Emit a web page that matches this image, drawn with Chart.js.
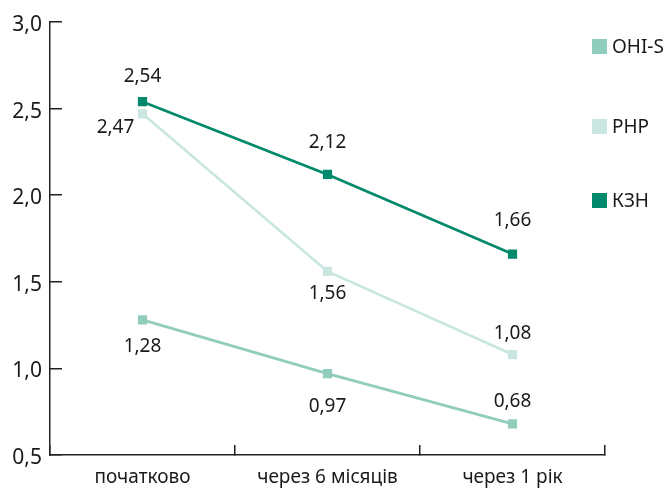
<!DOCTYPE html>
<html lang="uk">
<head>
<meta charset="utf-8">
<title>OHI-S, PHP, КЗН</title>
<script src="https://cdn.jsdelivr.net/npm/chart.js@4"></script>
<style>
  html, body { margin: 0; padding: 0; background: #fff; }
  #wrap { width: 668px; height: 494px; position: relative; }
</style>
</head>
<body>
<div id="wrap"><canvas id="chart"></canvas></div>
<script>
const periods = ['початково', 'через 6 місяців', 'через 1 рік'];
const ohiS = [1.28, 0.97, 0.68];
const php = [2.47, 1.56, 1.08];
const kzn = [2.54, 2.12, 1.66];
const yTicks = [0.5, 1.0, 1.5, 2.0, 2.5, 3.0];

const colors = { ohiS: '#90cdbd', php: '#c9e7e0', kzn: '#00896b' };
const fontFamily = "'Noto Sans', 'Open Sans', sans-serif";
const textColor = '#1a1a1a';

// where each value label sits relative to its point (px)
const labelShift = {
  'OHI-S': [[0, 27], [0, 33], [0, -22]],
  'PHP': [[-27, 14], [0, 22], [0, -21]],
  'КЗН': [[0, -25], [0, -32], [0, -33]]
};

const fmt = (v) => v.toFixed(2).replace('.', ',');

const valueLabels = {
  id: 'valueLabels',
  afterDatasetsDraw(chart) {
    const { ctx } = chart;
    ctx.save();
    ctx.font = `19px ${fontFamily}`;
    ctx.fillStyle = textColor;
    ctx.textAlign = 'center';
    ctx.textBaseline = 'middle';
    chart.data.datasets.forEach((ds, i) => {
      const meta = chart.getDatasetMeta(i);
      meta.data.forEach((pt, j) => {
        const [dx, dy] = labelShift[ds.label][j];
        ctx.fillText(fmt(ds.data[j]), pt.x + dx, pt.y + dy);
      });
    });
    ctx.restore();
  }
};

// legend stacked down the right edge
const sideLegend = {
  id: 'sideLegend',
  afterDraw(chart) {
    const { ctx } = chart;
    const rows = [46.5, 126.5, 200.5];
    ctx.save();
    ctx.font = `19px ${fontFamily}`;
    ctx.textBaseline = 'middle';
    chart.data.datasets.forEach((ds, i) => {
      const y = rows[i];
      ctx.fillStyle = ds.borderColor;
      ctx.fillRect(592, y - 7.5, 15, 15);
      ctx.fillStyle = textColor;
      ctx.fillText(ds.label, 612, y + 1);
    });
    ctx.restore();
  }
};

const series = (label, data, color, order) => ({
  label,
  data,
  order,
  borderColor: color,
  backgroundColor: color,
  borderWidth: 2.7,
  pointStyle: 'rect',
  pointRadius: 6.5,
  pointHoverRadius: 6.5,
  pointBorderWidth: 0,
  tension: 0
});

new Chart(document.getElementById('chart'), {
  type: 'line',
  data: {
    labels: periods,
    datasets: [
      series('OHI-S', ohiS, colors.ohiS, 2),
      series('PHP', php, colors.php, 1),
      series('КЗН', kzn, colors.kzn, 0)
    ]
  },
  options: {
    responsive: true,
    maintainAspectRatio: false,
    animation: false,
    layout: { padding: { top: 22, right: 63, left: 0, bottom: 0 } },
    plugins: {
      legend: { display: false },
      tooltip: { enabled: false }
    },
    scales: {
      x: {
        offset: true,
        grid: {
          offset: true,
          drawOnChartArea: false,
          tickLength: -10,
          color: '#222',
          lineWidth: 1.5
        },
        border: { color: '#222', width: 1.5 },
        ticks: {
          padding: 21,
          color: textColor,
          font: { family: fontFamily, size: 19 }
        },
        afterFit(scale) {
          scale.height = 39;
          scale.paddingLeft = 0;
          scale.paddingRight = 0;
        }
      },
      y: {
        min: 0.5,
        max: 3.0,
        afterBuildTicks(scale) { scale.ticks = yTicks.map((value) => ({ value })); },
        grid: {
          drawOnChartArea: false,
          tickLength: -12,
          color: '#222',
          lineWidth: 1.5
        },
        border: { color: '#222', width: 1.5 },
        ticks: {
          padding: 20,
          labelOffset: 3,
          color: textColor,
          font: { family: fontFamily, size: 21 },
          callback: (v) => Number(v).toFixed(1).replace('.', ',')
        },
        afterFit(scale) {
          scale.width = 50;
          scale.paddingTop = 0;
          scale.paddingBottom = 0;
        }
      }
    }
  },
  plugins: [valueLabels, sideLegend]
});
</script>
</body>
</html>
